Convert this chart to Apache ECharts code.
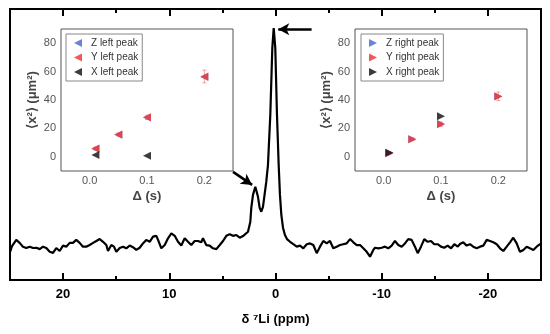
<!DOCTYPE html>
<html>
<head>
<meta charset="utf-8">
<script src="https://cdn.jsdelivr.net/npm/echarts@6/dist/echarts.min.js"></script>
<style>html,body{margin:0;padding:0;background:#fff}#c{width:550px;height:334px}</style>
</head>
<body>
<div id="c"></div>
<script>
// Main 7Li NMR spectrum (chemical shift in ppm, intensity in a.u.)
const ppm = [25.00,24.81,24.41,24.09,23.78,23.47,23.14,22.83,22.52,22.20,21.89,21.58,21.26,20.95,20.64,20.32,20.01,19.70,19.38,19.07,18.76,18.44,18.13,17.82,17.50,17.18,16.87,16.55,16.24,15.93,15.77,15.46,15.21,14.99,14.67,14.36,14.05,13.73,13.42,13.11,12.79,12.48,12.17,11.85,11.53,11.22,11.06,10.75,10.43,10.12,9.81,9.49,9.18,8.87,8.55,8.24,7.93,7.61,7.30,6.99,6.83,6.52,6.20,5.89,5.57,5.25,4.94,4.63,4.31,4.00,3.69,3.37,3.06,2.90,2.59,2.37,2.28,2.12,1.90,1.65,1.49,1.34,1.18,0.87,0.71,0.49,0.30,0.17,0.02,-0.14,-0.30,-0.42,-0.55,-0.71,-0.89,-1.08,-1.37,-1.68,-2.00,-2.31,-2.62,-2.94,-3.25,-3.56,-3.88,-4.19,-4.50,-4.82,-5.13,-5.44,-5.76,-6.07,-6.38,-6.70,-7.02,-7.33,-7.65,-7.96,-8.27,-8.59,-8.90,-9.21,-9.37,-9.68,-10.00,-10.31,-10.62,-10.94,-11.25,-11.56,-11.88,-12.19,-12.50,-12.82,-13.13,-13.39,-13.70,-14.01,-14.33,-14.64,-14.95,-15.27,-15.58,-15.89,-16.21,-16.53,-16.84,-17.16,-17.37,-17.68,-18.00,-18.31,-18.62,-18.94,-19.26,-19.57,-19.89,-20.20,-20.51,-20.83,-21.14,-21.45,-21.77,-22.08,-22.39,-22.71,-23.02,-23.34,-23.65,-23.96,-24.28,-24.59,-24.91,-25.00];
const intensity = [10.3,12.5,14.8,13.7,12.3,11.8,12.3,11.8,11.9,11.4,12.3,11.8,10.4,10.0,11.8,10.7,12.7,12.3,13.7,13.7,14.8,13.7,12.3,12.3,12.9,13.7,14.4,15.1,14.1,12.9,10.7,12.9,12.3,10.4,11.8,12.3,11.7,12.7,12.1,11.1,11.9,13.5,14.8,14.1,16.0,16.3,14.8,11.7,12.9,15.4,17.2,16.3,14.1,12.7,15.4,14.1,12.9,14.4,14.4,13.9,15.4,12.9,12.7,11.7,11.4,12.9,14.4,16.3,16.9,16.3,16.6,15.6,16.2,16.0,17.8,21.5,26.6,31.4,34.4,30.7,26.6,25.2,27.0,36.2,42.4,60.9,85.6,93.0,85.6,60.9,42.4,31.4,24.0,19.2,16.6,15.1,14.1,13.2,12.3,12.7,11.7,13.2,13.5,12.9,9.9,12.3,14.4,13.5,14.4,11.7,12.3,12.9,13.2,13.5,15.1,13.9,12.9,12.9,11.7,10.4,8.6,11.1,11.9,11.7,11.9,12.3,11.7,12.7,14.4,12.9,12.3,13.5,15.1,14.8,12.3,9.9,12.3,15.1,14.1,14.4,13.2,13.2,12.3,11.9,12.7,11.7,13.2,12.3,13.3,13.9,12.7,13.2,12.3,11.7,12.3,12.7,14.8,14.4,13.9,13.2,11.7,10.7,12.3,13.9,15.6,13.5,10.4,11.1,12.3,11.7,11.1,12.3,13.2,13.0];

// Main axis tick values
const ppmMajorTicks = [20, 10, 0, -10, -20];
const ppmMinorTicks = [15, 5, -5, -15];

// Arrows (annotation, in data coordinates: fromPpm, fromI, toPpm, toI)
const arrowSmall = [4.0, 39.9, 2.2, 35.1];
const arrowMain = [-3.4, 92.5, -0.26, 92.5];

// Inset data: Delta (s) vs <x^2> (um^2)
const deltaAll = [0.01, 0.05, 0.1, 0.2];
const deltaX = [0.01, 0.1];
const leftZ = [5.6, 15.6, 27.6, 56.2];
const leftY = [5.8, 15.7, 27.8, 56.6];
const leftYErr = [1.0, 1.0, 1.5, 4.5];
const leftX = [1.2, 0.8];
const rightZ = [2.6, 12.3, 23.1, 42.4];
const rightY = [2.5, 12.4, 23.0, 42.6];
const rightYErr = [1.0, 1.0, 1.5, 3.0];
const rightX = [2.8, 28.5];

const insetXTicks = [0, 0.05, 0.1, 0.15, 0.2];
const insetXLabels = [0, 0.1, 0.2];
const insetYTicks = [0, 20, 40, 60, 80];

const pair = (xs, ys) => xs.map((x, i) => [x, ys[i]]);
const triple = (xs, ys, es) => xs.map((x, i) => [x, ys[i], es[i]]);

const LEFT_TRI = 'path://M0,5L10,0L10,10Z';
const RIGHT_TRI = 'path://M10,5L0,0L0,10Z';
const BLUE = '#4f6fd0', RED = '#f23a3a', BLACK = '#1a1a1a';
const FONT = 'Liberation Sans, Arial, sans-serif';

function errRender(params, api) {
  const x = api.value(0), y = api.value(1), e = api.value(2);
  const a = api.coord([x, y + e]), b = api.coord([x, y - e]);
  const st = {stroke: 'rgba(240,90,90,0.55)', lineWidth: 1};
  return {type: 'group', children: [
    {type: 'line', shape: {x1: a[0], y1: a[1], x2: b[0], y2: b[1]}, style: st},
    {type: 'line', shape: {x1: a[0]-2, y1: a[1], x2: a[0]+2, y2: a[1]}, style: st},
    {type: 'line', shape: {x1: b[0]-2, y1: b[1], x2: b[0]+2, y2: b[1]}, style: st}
  ]};
}

function insetX(grid) {
  return {
    gridIndex: grid, type: 'value', min: -0.05, max: 0.25, position: 'bottom',
    axisLine: {show: false}, splitLine: {show: false},
    axisTick: {customValues: insetXTicks, inside: true, length: 4, lineStyle: {color: '#555', width: 1}},
    axisLabel: {customValues: insetXLabels, formatter: v => v.toFixed(1), color: '#555', fontSize: 11, margin: 4, fontFamily: FONT},
    name: 'Δ (s)', nameLocation: 'middle', nameGap: 19,
    nameTextStyle: {fontSize: 13, fontWeight: 'bold', color: '#444', fontFamily: FONT}
  };
}
function insetY(grid) {
  return {
    gridIndex: grid, type: 'value', min: -10, max: 90, position: 'left',
    axisLine: {show: false}, splitLine: {show: false},
    axisTick: {customValues: insetYTicks, inside: false, length: 3, lineStyle: {color: '#555', width: 1}},
    axisLabel: {customValues: insetYTicks, color: '#555', fontSize: 11, margin: 5, fontFamily: FONT},
    name: '⟨x²⟩ (μm²)', nameLocation: 'middle', nameGap: 22,
    nameTextStyle: {fontSize: 13, fontWeight: 'bold', color: '#444', fontFamily: FONT}
  };
}
function insetYMirror(grid) {
  return {
    gridIndex: grid, type: 'value', min: -10, max: 90, position: 'right',
    axisLine: {show: false}, splitLine: {show: false}, axisLabel: {show: false},
    axisTick: {customValues: insetYTicks, inside: true, length: 3, lineStyle: {color: '#555', width: 1}}
  };
}
function legendBox(left, names) {
  return {
    left: left, top: 34, orient: 'vertical', itemWidth: 8, itemHeight: 8, itemGap: 4.5,
    padding: [4, 4, 4, 8], borderColor: '#888', borderWidth: 1, backgroundColor: '#fff',
    textStyle: {fontSize: 10, color: '#333', fontFamily: FONT, padding: [0, 0, 0, 4]},
    data: names
  };
}
function scatter(name, xi, yi, xs, ys, sym, color) {
  return {name: name, type: 'scatter', xAxisIndex: xi, yAxisIndex: yi, symbol: sym, symbolSize: 8,
    itemStyle: {color: color, opacity: 0.85}, data: pair(xs, ys), z: 5};
}

const mainTick = (vals, len, top) => ({
  gridIndex: 0, type: 'value', min: -25, max: 25, inverse: true, position: top ? 'top' : 'bottom',
  axisLine: {show: false}, splitLine: {show: false},
  axisTick: {customValues: vals, inside: true, length: len, lineStyle: {color: '#000', width: 2}},
  axisLabel: {show: false}
});

const xMain = mainTick(ppmMajorTicks, 7, false);
xMain.axisLabel = {show: true, customValues: ppmMajorTicks, formatter: v => String(v), color: '#000', fontSize: 13, fontWeight: 'bold', margin: 8, fontFamily: FONT};
xMain.name = 'δ ⁷Li (ppm)';
xMain.nameLocation = 'middle';
xMain.nameGap = 33;
xMain.nameTextStyle = {fontSize: 13, fontWeight: 'bold', color: '#000', fontFamily: FONT};

const option = {
  animation: false,
  backgroundColor: '#fff',
  grid: [
    {left: 10, top: 9, width: 531, height: 271, show: true, borderColor: '#000', borderWidth: 2, backgroundColor: 'transparent'},
    {left: 61, top: 29, width: 172, height: 142, show: true, borderColor: '#555', borderWidth: 1, backgroundColor: '#fff', z: 3},
    {left: 355, top: 29, width: 172, height: 142, show: true, borderColor: '#555', borderWidth: 1, backgroundColor: '#fff', z: 3}
  ],
  xAxis: [
    xMain,
    mainTick(ppmMinorTicks, 4, false),
    mainTick(ppmMajorTicks, 7, true),
    mainTick(ppmMinorTicks, 4, true),
    insetX(1),
    insetX(2)
  ],
  yAxis: [
    {gridIndex: 0, type: 'value', min: 0, max: 100, show: false},
    insetY(1), insetYMirror(1),
    insetY(2), insetYMirror(2)
  ],
  legend: [
    legendBox(66, ['Z left peak', 'Y left peak', 'X left peak']),
    legendBox(361, ['Z right peak', 'Y right peak', 'X right peak'])
  ],
  series: [
    {
      type: 'line', xAxisIndex: 0, yAxisIndex: 0, showSymbol: false, symbol: 'none',
      lineStyle: {color: '#000', width: 2.2}, data: pair(ppm, intensity), z: 2,
      markLine: {
        silent: true, symbol: ['none', 'arrow'], symbolSize: [9, 11],
        lineStyle: {color: '#000', width: 2.5, type: 'solid'}, label: {show: false},
        data: [
          [{coord: [arrowSmall[0], arrowSmall[1]]}, {coord: [arrowSmall[2], arrowSmall[3]]}],
          [{coord: [arrowMain[0], arrowMain[1]]}, {coord: [arrowMain[2], arrowMain[3]]}]
        ]
      }
    },
    scatter('Z left peak', 4, 1, deltaAll, leftZ, LEFT_TRI, BLUE),
    {type: 'custom', xAxisIndex: 4, yAxisIndex: 1, renderItem: errRender, data: triple(deltaAll, leftY, leftYErr), z: 4, silent: true},
    scatter('Y left peak', 4, 1, deltaAll, leftY, LEFT_TRI, RED),
    scatter('X left peak', 4, 1, deltaX, leftX, LEFT_TRI, BLACK),
    scatter('Z right peak', 5, 3, deltaAll, rightZ, RIGHT_TRI, BLUE),
    {type: 'custom', xAxisIndex: 5, yAxisIndex: 3, renderItem: errRender, data: triple(deltaAll, rightY, rightYErr), z: 4, silent: true},
    scatter('Y right peak', 5, 3, deltaAll, rightY, RIGHT_TRI, RED),
    scatter('X right peak', 5, 3, deltaX, rightX, RIGHT_TRI, BLACK)
  ]
};

const chart = echarts.init(document.getElementById('c'), null, {renderer: 'canvas'});
chart.setOption(option);
</script>
</body>
</html>
